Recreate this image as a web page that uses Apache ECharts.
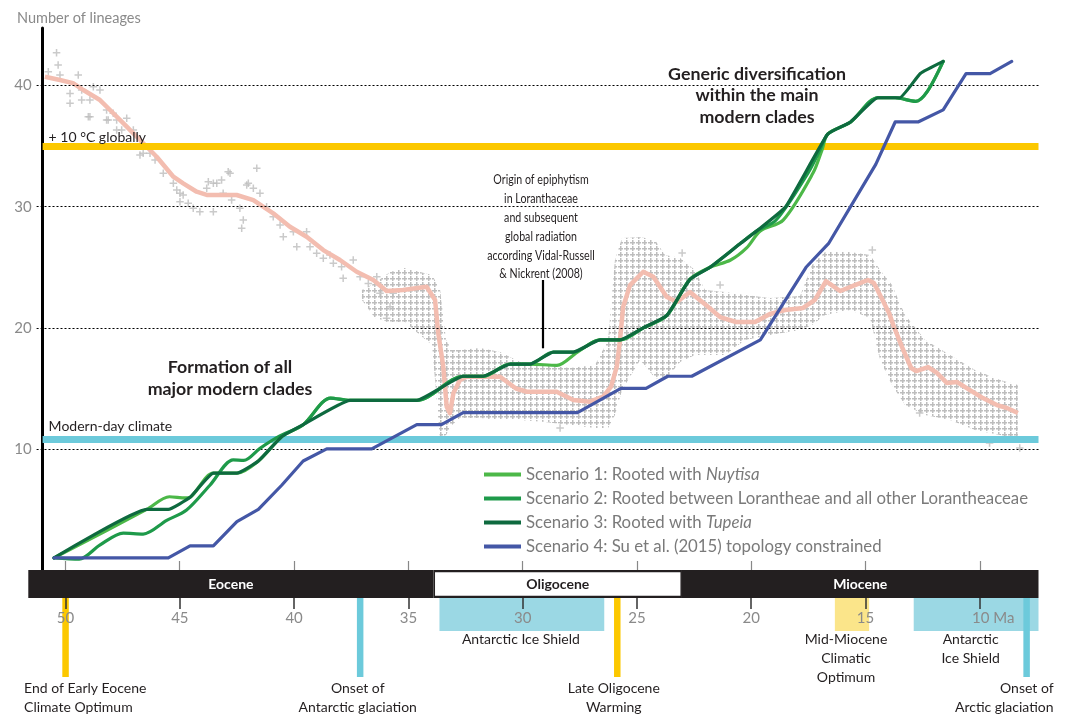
<!DOCTYPE html>
<html><head><meta charset="utf-8">
<script src="https://cdn.jsdelivr.net/npm/echarts@6.0.0/dist/echarts.min.js"></script>
<style>html,body{margin:0;padding:0;background:#fff}#chart{width:1069px;height:715px}</style>
</head><body><div id="chart"></div>
<script>
// ---------------- DATA ----------------
const xTicks = [50, 45, 40, 35, 30, 25, 20, 15, 10];
const yTicks = [10, 20, 30, 40];

const scenarioNames = [
  'Scenario 1: Rooted with Nuytisa',
  'Scenario 2: Rooted between Lorantheae and all other Lorantheaceae',
  'Scenario 3: Rooted with Tupeia',
  'Scenario 4: Su et al. (2015) topology constrained'
];

const scenario1 = [[50.5,1],[46.45,5],[45.45,6.05],[44.75,5.95],[44.55,6],[43.53,8],[42.5,8],[41.56,9],[40.54,11],[39.6,12],[38.4,14.2],[37.55,14],[34.63,14],[32.6,16],[31.72,16],[30.55,17],[29.68,17],[28.5,16.9],[27.6,18],[26.61,19],[25.74,19],[24.72,20],[23.7,21],[22.68,24],[21.8,25],[20.9,25.6],[20.2,26.6],[19.6,28],[18.6,28.9],[17.29,32.8],[16.9,34.7],[16.65,36],[15.65,37],[14.46,39],[13.7,39],[12.8,38.7],[12.3,39.5],[11.6,42]];
const scenario2 = [[50.5,1],[49.4,0.9],[48.5,2.05],[47.47,3.05],[46.6,2.97],[45.57,4.1],[44.7,4.95],[43.68,7],[42.66,9.1],[42.2,9.05],[41.49,10.05],[40.62,11.07],[39.6,12],[38.4,14.2],[37.55,14],[34.63,14],[32.6,16],[31.72,16],[30.55,17],[29.68,17],[28.66,18],[27.78,18],[26.61,19],[25.74,19],[24.72,20],[23.7,21],[22.68,24],[21.8,25],[20.45,27],[19.76,28],[18.91,28.9],[17.51,32.8],[16.99,34.7],[16.65,36],[15.65,37],[14.46,39],[13.7,39],[12.8,38.7],[12.3,39.5],[11.6,42]];
const scenario3 = [[50.5,1],[46.45,5],[45.5,5],[44.55,6],[43.53,8],[42.5,8],[41.56,9],[40.54,11],[39.6,12],[37.55,14],[34.63,14],[32.6,16],[31.72,16],[30.55,17],[29.68,17],[28.66,18],[27.78,18],[26.61,19],[25.74,19],[24.72,20],[23.7,21],[22.68,24],[21.8,25],[20.45,27],[19.76,28],[18.49,30],[16.65,36],[15.65,37],[14.46,39],[13.5,39],[12.6,41],[11.6,42]];
const scenario4 = [[50.5,1],[45.5,1],[44.55,2],[43.53,2],[42.5,4],[41.56,5],[40.54,7],[39.6,9],[38.57,10],[36.6,10],[34.63,12],[33.55,12],[32.6,13],[27.6,13],[25.7,15],[24.6,15],[23.65,16],[22.6,16],[19.6,19],[17.6,25],[16.6,27],[14.55,33.5],[13.7,37],[12.7,37],[11.6,38],[10.6,41],[9.55,41],[8.6,42]];

// temperature record (smoothed curve)
const temperatureCurve = [[50.9,40.73],[50.24,40.46],[49.67,40.21],[49.22,39.64],[48.49,38.81],[48.05,37.99],[47.32,36.61],[46.74,35.51],[46.01,34.13],[45.28,32.48],[44.85,31.93],[44.26,31.24],[43.82,30.97],[42.51,30.97],[41.78,30.55],[40.91,29.46],[40.18,28.35],[39.45,27.52],[38.72,26.42],[37.99,25.6],[37.26,24.63],[36.53,23.95],[35.95,23.04],[35.23,23.12],[34.2,23.39],[33.83,22.3],[33.69,19.55],[33.47,16.79],[33.32,13.48],[33.18,12.94],[33.03,14.59],[32.74,15.69],[32.45,15.96],[31.57,15.96],[30.99,15.96],[30.29,14.99],[29.82,14.72],[28.51,14.72],[27.78,14.04],[27.05,13.9],[26.48,14.31],[26.13,15.14],[25.88,16.79],[25.74,18.99],[25.6,21.74],[25.3,23.53],[24.72,24.63],[24.28,24.22],[23.7,22.57],[23.25,22.13],[22.68,22.96],[21.98,21.88],[21.36,20.89],[20.66,20.48],[19.83,20.48],[19.18,21.14],[18.52,21.47],[17.73,21.64],[17.21,22.3],[16.73,23.86],[16.11,23.04],[15.46,23.53],[14.89,23.95],[14.63,23.7],[14.32,22.54],[13.97,21.22],[13.75,20.07],[13.4,18.41],[13.0,16.68],[12.78,16.43],[12.26,16.76],[11.87,16.27],[11.43,15.44],[10.99,15.52],[10.43,14.86],[9.86,14.2],[9.25,13.62],[8.81,13.38],[8.33,12.96]];

// temperature record: dense part of the cloud of measurements [Ma, lower, upper]
const temperatureCloud = [[37.03,22.3,23.12],[36.46,20.81,23.7],[35.8,20.48,24.61],[35.15,20.48,24.94],[34.49,19.41,24.61],[33.96,18.58,24.36],[33.61,10.73,23.12],[33.35,11.15,18.99],[33.09,11.97,18.17],[32.74,12.55,18.17],[31.86,12.55,18.33],[30.99,12.39,18.0],[30.11,12.39,17.18],[29.02,12.22,16.93],[27.93,11.97,16.68],[26.83,11.73,16.93],[26.26,11.73,18.99],[25.96,12.8,25.6],[25.65,14.86,27.42],[24.86,17.34,27.5],[24.21,15.85,27.25],[23.77,15.69,26.01],[23.11,17.18,25.76],[22.46,17.75,24.77],[22.02,17.75,23.12],[21.14,17.75,22.96],[20.27,18.99,22.71],[19.18,19.41,22.46],[17.86,19.82,22.63],[17.34,20.23,25.19],[16.77,21.06,26.26],[15.68,21.47,26.26],[14.8,20.81,26.01],[14.36,17.34,24.77],[13.84,15.28,23.53],[13.27,13.63,21.06],[12.39,12.8,18.99],[11.3,12.39,17.75],[10.21,11.56,16.52],[9.11,11.15,15.69],[8.33,10.73,15.28]];

// temperature record: individual measurements (sparse part and outliers)
const temperaturePoints = [[50.39,42.72],[50.32,41.7],[50.75,41.15],[50.24,40.88],[49.44,40.88],[49.8,39.36],[49.29,39.64],[48.78,39.91],[48.49,39.64],[49.8,38.54],[49.29,38.81],[48.93,38.81],[49.0,37.43],[48.2,37.99],[47.91,37.71],[48.2,37.16],[47.76,37.16],[47.32,37.3],[47.76,36.33],[47.03,36.33],[48.93,37.43],[48.13,37.16],[47.54,36.33],[46.6,34.41],[46.3,34.41],[46.74,34.27],[46.08,33.85],[45.72,32.76],[45.28,31.93],[44.99,31.11],[45.13,31.38],[44.85,30.97],[44.99,30.41],[44.63,30.28],[44.41,29.87],[44.12,29.59],[43.53,29.59],[43.82,31.52],[43.53,31.93],[43.17,32.21],[42.88,32.89],[43.1,31.11],[42.73,30.55],[42.37,29.87],[42.22,28.9],[42.29,28.22],[42.07,31.79],[41.63,33.17],[41.78,31.52],[41.49,31.11],[41.2,30.0],[40.91,29.17],[40.61,28.49],[40.47,27.52],[40.03,27.94],[39.88,26.7],[39.45,27.94],[39.3,26.7],[39.01,26.15],[38.72,25.74],[38.43,26.01],[38.28,25.33],[37.92,25.05],[37.85,24.09],[37.41,25.6],[37.11,24.22],[36.75,23.67],[36.38,24.22],[36.24,22.85],[35.8,21.74],[35.95,20.78],[35.66,22.85],[43.75,32.07],[43.38,31.93],[42.8,32.76],[42.0,31.93],[23.02,26.18],[14.7,26.42],[12.63,12.96],[9.57,10.49],[8.25,10.07],[28.36,11.73],[21.36,23.53]];

const epochNames = ['Eocene', 'Oligocene', 'Miocene'];
const epochBounds = [[51.63, 33.9], [33.9, 23.03], [23.03, 7.43]];

const climateEventNames = [
  'End of Early Eocene\nClimate Optimum',
  'Onset of\nAntarctic glaciation',
  'Antarctic Ice Shield',
  'Late Oligocene\nWarming',
  'Mid-Miocene\nClimatic\nOptimum',
  'Antarctic\nIce Shield',
  'Onset of\nArctic glaciation'
];
const climateEventSpans = [[50.0,50.0],[37.11,37.11],[33.64,26.43],[25.86,25.86],[16.34,14.84],[12.89,7.43],[7.95,7.95]];
const climateEventKinds = ['warm','cold','cold','warm','warm','cold','cold'];

const climateLevelNames = ['+ 10 °C globally', 'Modern-day climate'];
const climateLevelValues = [35, 10.8];
const climateLevelKinds = ['warm', 'cold'];

const epiphytismMarker = [29.14, 23.95, 18.31]; // Ma, top, bottom of pointer

// ---------------- STYLE / LAYOUT ----------------
const FONT = 'Lato, "Open Sans", "Noto Sans", sans-serif';
const TXT = '#231f20';
const scenarioColors = ['#4cb848', '#1e9a4a', '#0e6a3f', '#4457a6'];
const warmBar = '#fcc800', coldBar = '#6ccadb', warmBlock = '#fbe58a', coldBlock = '#9bd8e4';
const eventLabelLayout = [
  {align:'left', dx:-41.5, dy:80.5},
  {align:'center', dx:-2.4, dy:80.5},
  {align:'center', dx:-1, dy:31.5},
  {align:'center', dx:-3.5, dy:80.5},
  {align:'center', dx:-6, dy:31.5},
  {align:'center', dx:-5.5, dy:31.5},
  {align:'right', dx:27, dy:80.5}
];

// cross-hatch pattern for dense measurement cloud
const tile = document.createElement('canvas');
tile.width = 6; tile.height = 6;
const tctx = tile.getContext('2d');
tctx.fillStyle = '#bdbdbd';
tctx.fillRect(0, 2, 5, 1.5);
tctx.fillRect(2, 0, 1.5, 5);
const cloudPattern = { image: tile, repeat: 'repeat' };

const chart = echarts.init(document.getElementById('chart'), null, {renderer: 'canvas'});

const scenarios = [scenario1, scenario2, scenario3, scenario4];
const scenarioSmooth = [0.3, 0.3, 0.12, 0];
const scenarioSeries = [3, 0, 1, 2].map(i => ({
  name: scenarioNames[i], type: 'line', xAxisIndex: 0, yAxisIndex: 0,
  data: scenarios[i], showSymbol: false, symbol: 'none', smooth: scenarioSmooth[i],
  lineStyle: { color: scenarioColors[i], width: 3.2, join: 'round', cap: 'round' },
  itemStyle: { color: scenarioColors[i] }, z: 5 + i
}));

const option = {
  animation: false,
  backgroundColor: '#fff',
  title: { text: 'Number of lineages', left: 12, top: 6,
    textStyle: { fontFamily: FONT, fontSize: 14.5, fontWeight: 'normal', color: '#8a8a8a' } },
  legend: {
    data: scenarioNames, orient: 'vertical', left: 479, top: 460,
    icon: 'rect', itemWidth: 37, itemHeight: 4, itemGap: 5, selectedMode: false,
    textStyle: { fontFamily: FONT, fontSize: 16.8, color: '#7a7a7a', lineHeight: 19,
      rich: { i: { fontFamily: FONT, fontSize: 16.8, color: '#7a7a7a', fontStyle: 'italic' } } },
    formatter: n => n.replace('Nuytisa', '{i|Nuytisa}').replace('Tupeia', '{i|Tupeia}')
  },
  grid: [
    { left: 42.6, right: 30.5, top: 28, bottom: 145 },
    { left: 28.3, right: 30.5, top: 570, height: 28 },
    { left: 28.3, right: 30.5, top: 598, height: 117 }
  ],
  xAxis: [
    { gridIndex: 0, type: 'value', inverse: true, min: 7.43, max: 51,
      axisLine: { show: false }, splitLine: { show: false }, axisLabel: { show: false },
      axisTick: { show: true, inside: true, length: 9, customValues: xTicks, lineStyle: { color: '#888', width: 1.2 } } },
    { gridIndex: 1, type: 'value', inverse: true, min: 7.43, max: 51.63, z: 10,
      axisLine: { show: false }, splitLine: { show: false },
      axisTick: { show: true, length: 11, customValues: xTicks, lineStyle: { color: '#333', width: 1.5 } },
      axisLabel: { show: true, customValues: xTicks, margin: 13, color: '#8a8a8a', fontFamily: FONT, fontSize: 15,
        formatter: v => v === 10 ? '{pad|}10 Ma' : String(v), rich: { pad: { width: 27 } } } },
    { gridIndex: 2, type: 'value', inverse: true, min: 7.43, max: 51.63, show: false }
  ],
  yAxis: [
    { gridIndex: 0, type: 'value', min: 0, max: 44.76,
      axisLine: { show: true, lineStyle: { color: '#000', width: 3 } },
      splitLine: { show: false },
      axisTick: { show: true, length: 8, customValues: yTicks, lineStyle: { color: '#000', width: 1, type: [2, 2] } },
      axisLabel: { show: true, customValues: yTicks, margin: 11, color: '#8a8a8a', fontFamily: FONT, fontSize: 15 } },
    { gridIndex: 1, type: 'value', min: 0, max: 1, show: false },
    { gridIndex: 2, type: 'value', min: 0, max: 117, inverse: true, show: false }
  ],
  graphic: [
    { type: 'text', x: 230, y: 356, z: 20, style: { text: 'Formation of all\nmajor modern clades', font: 'bold 17.8px ' + FONT, fill: TXT, align: 'center', verticalAlign: 'top', lineHeight: 22 } },
    { type: 'text', x: 757, y: 63, z: 20, style: { text: 'Generic diversification\nwithin the main\nmodern clades', font: 'bold 17.8px ' + FONT, fill: TXT, align: 'center', verticalAlign: 'top', lineHeight: 21.7 } },
    { type: 'text', x: 541, y: 170.5, scaleX: 0.76, z: 20, style: { text: 'Origin of epiphytism\nin Loranthaceae\nand subsequent\nglobal radiation\naccording Vidal-Russell\n& Nickrent (2008)', font: '14px ' + FONT, fill: TXT, align: 'center', verticalAlign: 'top', lineHeight: 18.8 } }
  ],
  series: [
    { name: 'cloud', type: 'custom', xAxisIndex: 0, yAxisIndex: 0, z: 1, silent: true,
      data: temperatureCloud, encode: { x: 0, y: [1, 2] },
      renderItem: (params, api) => {
        if (params.dataIndex !== 0) return null;
        const top = temperatureCloud.map(r => api.coord([r[0], r[2]]));
        const bot = temperatureCloud.map(r => api.coord([r[0], r[1]])).reverse();
        return { type: 'polygon', shape: { points: top.concat(bot) }, style: { fill: cloudPattern } };
      } },
    { name: 'points', type: 'scatter', xAxisIndex: 0, yAxisIndex: 0, z: 1, silent: true,
      data: temperaturePoints, symbol: 'path://M2,0L3,0L3,2L5,2L5,3L3,3L3,5L2,5L2,3L0,3L0,2L2,2Z', symbolSize: 7.5,
      itemStyle: { color: '#bdbdbd' } },
    { name: 'temperature', type: 'line', xAxisIndex: 0, yAxisIndex: 0, z: 2, silent: true,
      data: temperatureCurve, showSymbol: false, symbol: 'none',
      lineStyle: { color: '#f3bdb0', width: 4.5, join: 'round' } },
    { name: 'guides', type: 'line', xAxisIndex: 0, yAxisIndex: 0, z: 3, data: [], silent: true,
      markLine: { silent: true, symbol: 'none', animation: false,
        data: yTicks.map(v => ({ yAxis: v, lineStyle: { color: '#000', width: 1, type: [2, 2] }, label: { show: false } }))
          .concat(climateLevelValues.map((v, i) => ({ yAxis: v,
            lineStyle: { color: climateLevelKinds[i] === 'warm' ? warmBar : coldBar, width: 7, type: 'solid' },
            label: { show: true, position: 'insideEndTop', formatter: climateLevelNames[i], color: TXT, fontFamily: FONT, fontSize: 14,
              distance: [6, i === 0 ? 1.5 : 5.5] } })))
          .concat([[{ coord: [epiphytismMarker[0], epiphytismMarker[1]], lineStyle: { color: '#000', width: 2.2, type: 'solid' }, label: { show: false } },
                    { coord: [epiphytismMarker[0], epiphytismMarker[2]] }]])
      } },
    ...scenarioSeries,
    { name: 'epochs', type: 'custom', xAxisIndex: 1, yAxisIndex: 1, z: 2, silent: true,
      data: epochBounds, encode: { x: [0, 1] },
      renderItem: (params, api) => {
        const b = epochBounds[params.dataIndex];
        const p0 = api.coord([b[0], 1]), p1 = api.coord([b[1], 0]);
        const isO = epochNames[params.dataIndex] === 'Oligocene';
        const children = [{ type: 'rect', shape: { x: p0[0], y: p0[1], width: p1[0] - p0[0], height: p1[1] - p0[1] }, style: { fill: TXT } }];
        if (isO) children.push({ type: 'rect', shape: { x: p0[0] + 1.5, y: p0[1] + 2.3, width: p1[0] - p0[0] - 3, height: p1[1] - p0[1] - 4.6 }, style: { fill: '#fff' } });
        children.push({ type: 'text', x: (p0[0] + p1[0]) / 2, y: (p0[1] + p1[1]) / 2,
          style: { text: epochNames[params.dataIndex], font: 'bold 14px ' + FONT, fill: isO ? TXT : '#fff', align: 'center', verticalAlign: 'middle' } });
        return { type: 'group', children };
      } },
    { name: 'events', type: 'custom', xAxisIndex: 2, yAxisIndex: 2, z: 2, silent: true,
      data: climateEventSpans, encode: { x: [0, 1] },
      renderItem: (params, api) => {
        const i = params.dataIndex;
        const s = climateEventSpans[i];
        const warm = climateEventKinds[i] === 'warm';
        const children = [];
        let cx;
        if (s[0] === s[1]) {
          const p = api.coord([s[0], 0]), q = api.coord([s[0], 79]);
          cx = p[0];
          children.push({ type: 'rect', shape: { x: p[0] - 3.25, y: p[1], width: 6.5, height: q[1] - p[1] }, style: { fill: warm ? warmBar : coldBar } });
        } else {
          const p = api.coord([s[0], 0]), q = api.coord([s[1], 33]);
          cx = (p[0] + q[0]) / 2;
          children.push({ type: 'rect', shape: { x: p[0], y: p[1], width: q[0] - p[0], height: q[1] - p[1] }, style: { fill: warm ? warmBlock : coldBlock } });
        }
        const L = eventLabelLayout[i];
        const ty = api.coord([s[0], L.dy])[1];
        children.push({ type: 'text', x: cx + L.dx, y: ty,
          style: { text: climateEventNames[i], font: '14px ' + FONT, fill: TXT, align: L.align, verticalAlign: 'top', lineHeight: 19 } });
        return { type: 'group', children };
      } }
  ]
};
chart.setOption(option);
</script></body></html>
